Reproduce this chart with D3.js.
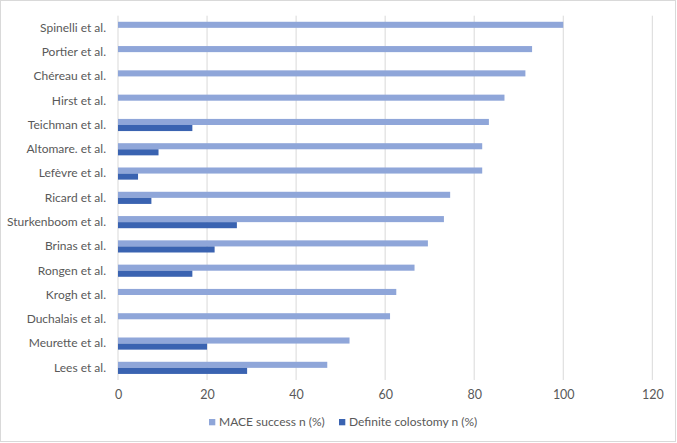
<!DOCTYPE html>
<html>
<head>
<meta charset="utf-8">
<script src="https://cdn.jsdelivr.net/npm/d3@7"></script>
<style>
  body { margin: 0; background: #fff; }
  text { font-family: Lato, "Open Sans", sans-serif; fill: #595959; }
</style>
</head>
<body>
<svg class="chart"></svg>
<script>
var studies = ["Spinelli et al.", "Portier et al.", "Chéreau et al.", "Hirst et al.",
  "Teichman et al.", "Altomare. et al.", "Lefèvre et al.", "Ricard et al.",
  "Sturkenboom et al.", "Brinas et al.", "Rongen et al.", "Krogh et al.",
  "Duchalais et al.", "Meurette et al.", "Lees et al."];
var maceSuccess = [100, 93, 91.5, 86.8, 83.3, 81.8, 81.8, 74.6, 73.2, 69.6, 66.6, 62.5, 61.1, 52, 47];
var colostomy = [null, null, null, null, 16.7, 9.1, 4.5, 7.5, 26.7, 21.7, 16.7, null, null, 20, 29];
var xTicks = [0, 20, 40, 60, 80, 100, 120];
var seriesNames = ["MACE success n (%)", "Definite colostomy n (%)"];
var colors = ["#8FA6D9", "#3A63B1"];

var W = 677, H = 443;
var margin = {top: 15.7, right: 677 - 652.3, bottom: 443 - 380, left: 118},
    width = W - margin.left - margin.right,
    height = H - margin.top - margin.bottom;

var svg = d3.select(".chart")
    .attr("width", W)
    .attr("height", H);

svg.append("rect")
    .attr("x", 0.5).attr("y", 0.5)
    .attr("width", W - 2).attr("height", H - 2)
    .attr("fill", "#fff")
    .attr("stroke", "#d9d9d9");

var chart = svg.append("g")
    .attr("transform", "translate(" + margin.left + "," + margin.top + ")");

var x = d3.scaleLinear().domain([0, 120]).range([0, width]);
var y = d3.scaleBand().domain(studies).range([0, height]).paddingInner(0.5).paddingOuter(0.25);
var ySub = d3.scaleBand().domain([0, 1]).range([0, y.bandwidth()]);

// gridlines
chart.append("g")
  .selectAll("line")
  .data(xTicks)
  .enter().append("line")
    .attr("x1", function(d) { return x(d); })
    .attr("x2", function(d) { return x(d); })
    .attr("y1", 0)
    .attr("y2", height)
    .attr("stroke", "#d9d9d9")
    .attr("stroke-width", 1);

var rows = studies.map(function(s, i) {
  return {name: s, values: [maceSuccess[i], colostomy[i]]};
});

var groups = chart.selectAll(".study")
    .data(rows)
  .enter().append("g")
    .attr("class", "study")
    .attr("transform", function(d) { return "translate(0," + y(d.name) + ")"; });

groups.selectAll("rect")
    .data(function(d) { return d.values.map(function(v, k) { return {k: k, v: v}; }).filter(function(e) { return e.v != null; }); })
  .enter().append("rect")
    .attr("x", 0)
    .attr("y", function(e) { return ySub(e.k); })
    .attr("width", function(e) { return x(e.v); })
    .attr("height", ySub.bandwidth())
    .attr("fill", function(e) { return colors[e.k]; });

// axes
var xAxis = d3.axisBottom(x).tickValues(xTicks).tickSize(0).tickPadding(10);
chart.append("g")
    .attr("transform", "translate(0," + height + ")")
    .call(xAxis)
    .call(function(g) { g.select(".domain").remove(); })
  .selectAll("text")
    .style("font-family", "Lato, 'Open Sans', sans-serif")
    .style("font-size", "12.5px")
    .attr("fill", "#595959");

var yAxis = d3.axisLeft(y).tickSize(0).tickPadding(12);
chart.append("g")
    .call(yAxis)
    .call(function(g) { g.select(".domain").remove(); })
  .selectAll("text")
    .style("font-family", "Lato, 'Open Sans', sans-serif")
    .style("font-size", "12px")
    .attr("fill", "#595959");

// legend
var legendX = [209, 339];
var legend = svg.selectAll(".legend")
    .data(seriesNames)
  .enter().append("g")
    .attr("class", "legend")
    .attr("transform", function(d, i) { return "translate(" + legendX[i] + ",419)"; });

legend.append("rect")
    .attr("width", 6.3)
    .attr("height", 6.3)
    .attr("fill", function(d, i) { return colors[i]; });

legend.append("text")
    .attr("x", 10)
    .attr("y", 3.2)
    .attr("dy", "0.35em")
    .style("font-size", "12px")
    .text(function(d) { return d; });
</script>
</body>
</html>
